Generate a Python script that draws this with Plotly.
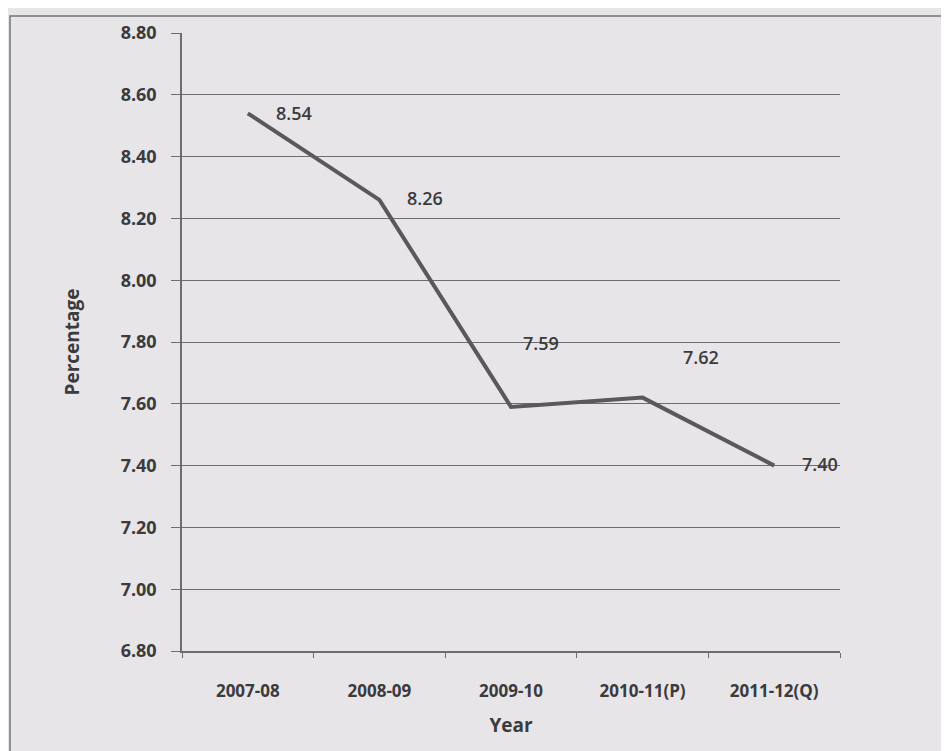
import plotly.graph_objects as go

# values
years = ["2007-08", "2008-09", "2009-10", "2010-11(P)", "2011-12(Q)"]
percentage = [8.54, 8.26, 7.59, 7.62, 7.40]
value_labels = ["8.54", "8.26", "7.59", "7.62", "7.40"]
y_ticks = [6.80, 7.00, 7.20, 7.40, 7.60, 7.80, 8.00, 8.20, 8.40, 8.60, 8.80]

# pixel offsets of the data labels from their points (Excel-style placement)
label_shift = [(46, 0), (46, 2), (30, 64), (58, 41), (46, 2)]

bg = "#e7e5e8"
ink = "#3b3a3c"
grid = "#6f6b6e"
font_family = "Open Sans, Noto Sans, DejaVu Sans, sans-serif"

fig = go.Figure()
fig.add_trace(
    go.Scatter(
        x=years,
        y=percentage,
        mode="lines",
        line=dict(color="#58585d", width=4),
        showlegend=False,
        hoverinfo="x+y",
    )
)

for year, val, text, (dx, dy) in zip(years, percentage, value_labels, label_shift):
    fig.add_annotation(
        x=year,
        y=val,
        text=text,
        showarrow=False,
        xshift=dx,
        yshift=dy,
        font=dict(family=font_family, size=18, color=ink, weight=600),
    )

# outer chart frame
fig.add_shape(
    type="rect",
    xref="paper",
    yref="paper",
    x0=-0.2614,
    x1=1.3,
    y0=-0.3,
    y1=1.0275,
    line=dict(color="#77737a", width=1.5),
    layer="below",
)

# the page adds an 8px body margin, so the figure is a little smaller
fig.update_layout(
    width=941,
    height=743,
    paper_bgcolor=bg,
    plot_bgcolor=bg,
    margin=dict(l=174, r=109, t=14, b=100),
    font=dict(family=font_family, color=ink),
    xaxis=dict(
        type="category",
        title=dict(
            text="Year",
            font=dict(size=19, color=ink, weight=700),
            standoff=18,
        ),
        tickfont=dict(size=17, color=ink, weight=700),
        showgrid=False,
        showline=True,
        linecolor=grid,
        linewidth=1.5,
        ticks="outside",
        tickson="boundaries",
        ticklen=5,
        tickcolor=grid,
        ticklabelstandoff=24,
        range=[-0.5, 4.5],
    ),
    yaxis=dict(
        title=dict(
            text="Percentage",
            font=dict(size=19, color=ink, weight=700),
            standoff=36,
        ),
        range=[6.8, 8.8],
        tickvals=y_ticks,
        tickformat=".2f",
        tickfont=dict(size=18, color=ink, weight=700),
        showgrid=True,
        gridcolor=grid,
        gridwidth=1,
        showline=True,
        linecolor=grid,
        linewidth=1.5,
        ticks="outside",
        ticklen=9,
        tickcolor=grid,
        zeroline=False,
        ticklabelstandoff=11,
    ),
)

fig.write_html("out.html")
